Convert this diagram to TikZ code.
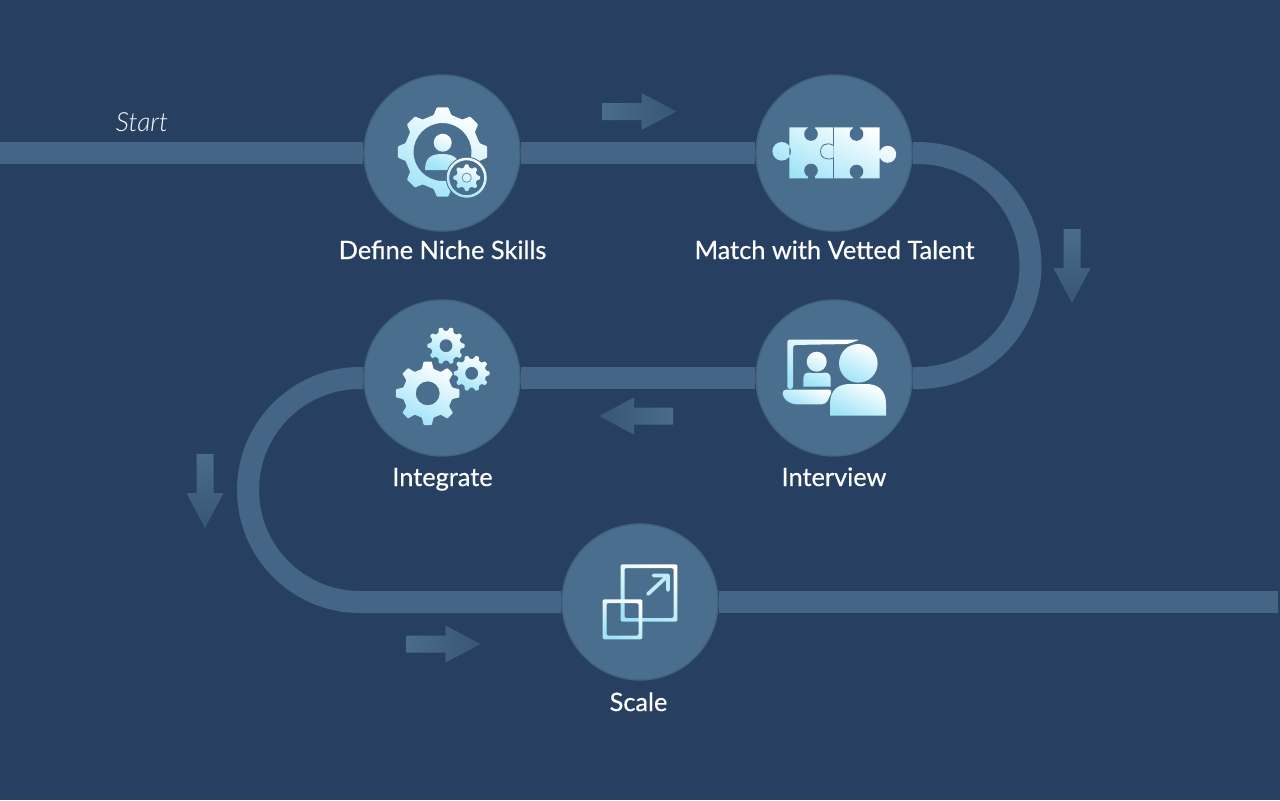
\documentclass[tikz,border=0pt]{standalone}
\usepackage{fontspec}
\setmainfont{Lato}
\newfontfamily\startfont[ItalicFont={Lato Light Italic}]{Lato Light}
\usetikzlibrary{backgrounds}

\definecolor{pagebg}{RGB}{39,64,98}
\definecolor{trackcol}{RGB}{68,101,134}
\definecolor{stepcol}{RGB}{74,110,141}
\definecolor{stephalo}{RGB}{66,98,130}
\definecolor{iconcyan}{RGB}{160,228,248}
\definecolor{arrowlight}{RGB}{74,108,140}
\definecolor{arrowdark}{RGB}{56,85,118}

\tikzset{
  stepcircle/.style={circle,minimum size=117pt,inner sep=0pt,fill=stepcol,draw=stephalo,line width=1pt},
  steplabel/.style={anchor=base,text=white,font=\fontsize{19}{22}\selectfont\addfontfeature{FakeBold=0.5},inner sep=0pt},
  track/.style={draw=trackcol,line width=16.5pt},
  iconfill/.style={shading=axis,top color=white,bottom color=iconcyan,shading angle=-25},
  iconback/.style={fill=stepcol},
}

% gear: x, y, outer radius, inner radius, teeth, hole radius
\newcommand{\gearicon}[6]{
  \pgfmathsetmacro\gearstep{360/#5}
  \pgfmathtruncatemacro\gearlast{#5-1}
  \path[iconfill,even odd rule,shift={(#1,#2)},rounded corners=0.6pt] (-0.3*\gearstep:#4)
    \foreach \k in {0,...,\gearlast} { -- ({(\k-0.3)*\gearstep}:#4) -- ({(\k-0.16)*\gearstep}:#3) -- ({(\k+0.16)*\gearstep}:#3) -- ({(\k+0.3)*\gearstep}:#4) }
    -- cycle (0,0) circle[radius=#6];
}
% arrow: x, y, rotation, shading angle
\newcommand{\flowarrow}[4]{
  \path[shift={(#1,#2)},rotate=#3,shading=axis,left color=arrowlight,right color=arrowdark,shading angle=#4]
    (0,-8.5) -- (39,-8.5) -- (39,-18.5) -- (74,0) -- (39,18.5) -- (39,8.5) -- (0,8.5) -- cycle;
}

\begin{document}
\begin{tikzpicture}[x=0.75pt,y=0.75pt,yscale=-1,xscale=1]
\useasboundingbox (0,0) rectangle (1280,800);

% Steps
\node [stepcircle] (define) at (442,153) {};
\node [stepcircle] (match) at (834,153) {};
\node [stepcircle] (interview) at (834,378) {};
\node [stepcircle] (integrate) at (442,378) {};
\node [stepcircle] (scaleup) at (640,602) {};
\coordinate (trackstart) at (0,153);
\coordinate (trackend) at (1278,602);

% Track
\begin{scope}[on background layer]
\fill [pagebg] (0,0) rectangle (1280,800);
\draw [track] (trackstart) -- (define);
\draw [track] (define) -- (match);
\draw [track] (match) -- ++(84,0) arc[start angle=-90,end angle=90,radius=112.5] -- (interview);
\draw [track] (interview) -- (integrate);
\draw [track] (integrate) -- ++(-82,0) arc[start angle=-90,end angle=-270,radius=112] -- (scaleup);
\draw [track] (scaleup) -- (trackend);
\end{scope}

% Direction arrows
\flowarrow{602.5}{111.5}{0}{90}
\flowarrow{1072}{229}{90}{0}
\flowarrow{673}{416}{180}{-90}
\flowarrow{205}{454}{90}{0}
\flowarrow{406.5}{644}{0}{90}

% Define Niche Skills icon
\gearicon{442.5}{152}{45}{38}{8}{29}
\path [iconfill] (442.7,142.7) circle[radius=9] (425,170) .. controls (425,157) and (432,154) .. (442,154) .. controls (452,154) and (460,157) .. (460,170) -- cycle;
\path [iconback] (466.7,177.7) circle[radius=21];
\path [iconfill,even odd rule] (466.7,177.7) circle[radius=20] circle[radius=17.5];
\gearicon{466.7}{177.7}{13.5}{10.5}{8}{0.01}
\draw [fill=white!60!iconcyan,draw=stepcol!70!iconcyan,line width=0.6pt] (466.7,177.7) circle[radius=4.6];

% Match icon
\path [iconfill] (789.3,127.3) rectangle (833.3,178.3) (781.7,151.3) circle[radius=9.3] (833.8,127.3) rectangle (879.5,178.3) (887.7,154.3) circle[radius=8.5];
\fill [stepcol] (811,134) circle[radius=6.8];
\fill [stepcol] (811,170.5) circle[radius=6.8];
\fill [stepcol] (856.5,134) circle[radius=6.8];
\fill [stepcol] (856.5,171.5) circle[radius=6.8];
\fill [stepcol] (807.5,126.8) rectangle (814.5,134);
\fill [stepcol] (853,126.8) rectangle (860,134);
\fill [stepcol] (807.5,170) rectangle (814.5,178.8);
\fill [stepcol] (853,171) rectangle (860,178.8);
\draw [stepcol,line width=0.6pt] (833.5,127.3) -- (833.5,145.5) .. controls (826,141) and (820,146) .. (820.5,151.5) .. controls (820,157) and (826,161) .. (833.5,158) -- (833.5,178.3);

% Interview icon
\path [iconfill,rounded corners=2pt] (787.3,389) -- (787.3,339.5) -- (860,339.5) -- (848,344) -- (793,345) -- (793,389) -- cycle;
\path [iconfill] (816.7,361.7) circle[radius=10] (803.3,386.7) -- (803.3,378) .. controls (803.3,373) and (808,371.7) .. (812,373) -- (822,373) .. controls (826,371.7) and (830.7,373) .. (830.7,378) -- (830.7,386.7) -- cycle;
\path [iconfill,rounded corners=3pt] (782.3,389.5) -- (832.7,389.5) -- (826,404.3) -- (792,404.3) -- (783,398) -- cycle;
\path [iconfill] (858.3,363.3) circle[radius=19.3];
\path [iconfill] (830,415.7) -- (830,404) .. controls (830,390) and (838,384) .. (850,384) -- (866,384) .. controls (878,384) and (886,390) .. (886,404) -- (886,415.7) -- cycle;
\draw [stepcol,line width=0.6pt] (846,383.4) -- (870,383.4);

% Integrate icon
\gearicon{427.7}{393.3}{32}{25}{8}{12}
\gearicon{446}{345.7}{18.7}{15}{10}{6.5}
\gearicon{471.7}{373.3}{18}{14.5}{10}{6.5}

% Scale icon
\path [iconfill,even odd rule,rounded corners=1pt] (620.7,564.3) rectangle (677.3,621.7) (624.5,568) rectangle (673.5,618);
\path [iconfill,even odd rule,rounded corners=1pt] (602.7,599.3) rectangle (642.3,639.3) (606.5,603) rectangle (638.5,635.5);
\draw [white!30!iconcyan,line width=2.8pt,line cap=round,line join=round] (648,594) -- (668,575.5) (653.5,575.5) -- (668,575.5) -- (668,590);

% Labels
\node [steplabel] (definetext) at (442.5,259) {Define Niche Skills};
\node [steplabel] (matchtext) at (834.5,259) {Match with Vetted Talent};
\node [steplabel] (interviewtext) at (834,486) {Interview};
\node [steplabel] (integratetext) at (442.5,486) {Integrate};
\node [steplabel] (scaletext) at (638.5,711) {Scale};
\node [text=white!90!iconcyan,font=\fontsize{19.8}{22}\selectfont\startfont\itshape,inner sep=0pt] (starttext) at (142,122) {Start};

\end{tikzpicture}
\end{document}
